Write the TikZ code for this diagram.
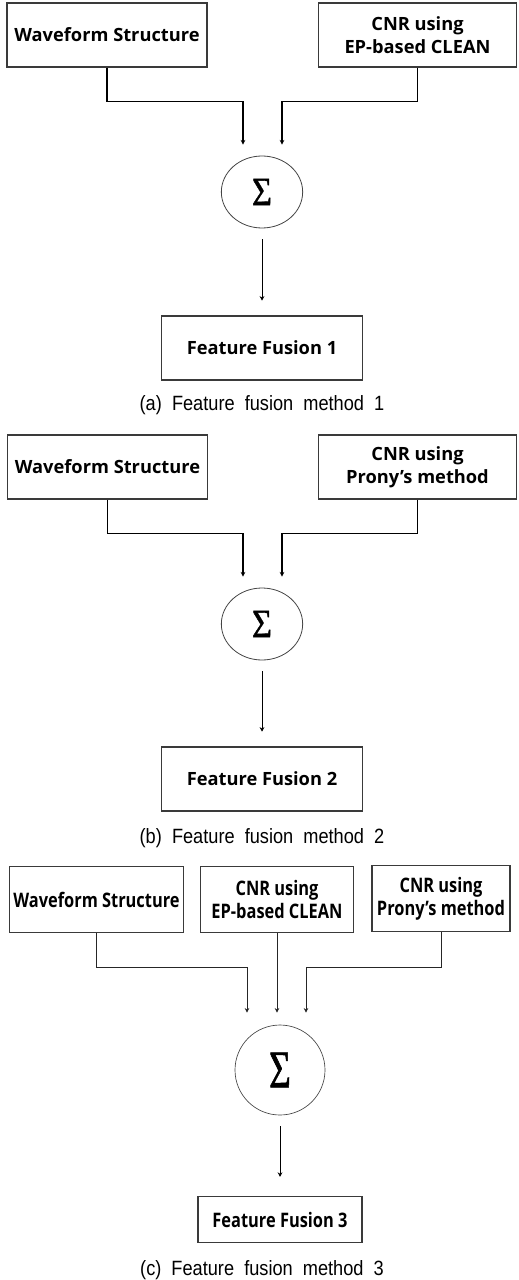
\documentclass[tikz,border=0pt]{standalone}
\usepackage{fontspec}
\usepackage{tikz}
\usetikzlibrary{arrows.meta, positioning, shapes.geometric, calc}
\newfontfamily\boxfont{Open Sans}
\newfontfamily\narrowfont[FakeStretch=0.82]{Open Sans}
\newfontfamily\capfont[FakeStretch=0.88, WordSpace=2]{Liberation Sans}
\newfontfamily\sigfont[FakeStretch=0.86, FakeBold=1]{Liberation Serif}
\newfontfamily\sigfontnarrow[FakeStretch=0.7, FakeBold=1]{Liberation Serif}
\definecolor{boxgray}{HTML}{3A3A3A}
\definecolor{ringgray}{HTML}{444444}

\tikzset{
  block/.style={draw=boxgray, line width=0.9pt, minimum width=150pt, minimum height=48pt,
    inner sep=1pt, align=center, font=\boxfont\bfseries\fontsize{13.7pt}{17pt}\selectfont},
  blockc/.style={block, line width=0.8pt, font=\narrowfont\bfseries\fontsize{15pt}{17pt}\selectfont},
  sumnode/.style={ellipse, draw=ringgray, line width=0.6pt, minimum width=61pt, minimum height=54pt,
    inner sep=0pt, font=\sigfont\fontsize{30pt}{30pt}\selectfont},
  sumring/.style={circle, draw=ringgray, line width=0.5pt, minimum size=67.5pt,
    inner sep=0pt, font=\sigfontnarrow\fontsize{40pt}{40pt}\selectfont},
  link/.style={line width=1.1pt, -{Stealth[length=3.5pt, width=3.5pt]}},
  linkc/.style={line width=0.6pt, draw=black!85, -{Stealth[length=3.5pt, width=3.5pt]}},
  drop/.style={line width=0.6pt, shorten <=8pt, shorten >=11pt, -{Stealth[length=3.5pt, width=3.5pt]}},
  caption/.style={font=\capfont\fontsize{15.5pt}{18pt}\selectfont},
}

\begin{document}
\begin{tikzpicture}[x=0.75pt, y=0.75pt]
    \useasboundingbox (0,0) rectangle (518,-1280);

    % (a) waveform + EP-based CLEAN
    \node[block] (wsA) at (107,-35) {Waveform Structure};
    \node[block, minimum width=149pt] (cnrA) at (417.5,-35) {CNR using\\EP-based CLEAN};
    \node[sumnode] (sumA) at (262,-192) {Σ};
    \node[block, minimum width=151pt] (ffA) at (262,-348) {Feature Fusion 1};
    \node[caption] (capA) at (262,-405) {(a) Feature fusion method 1};

    \coordinate (inA1) at ($(sumA.north)+(-19,11)$);
    \coordinate (inA2) at ($(sumA.north)+(20,11)$);
    \draw[link] (wsA.south) -- ++(0,-34) -| (inA1);
    \draw[link] (cnrA.south) -- ++(0,-34) -| (inA2);
    \draw[drop] (sumA) -- (ffA);

    % (b) waveform + Prony
    \node[block] (wsB) at (107.5,-467) {Waveform Structure};
    \node[block, minimum width=149pt] (cnrB) at (417.5,-467) {CNR using\\Prony’s method};
    \node[sumnode] (sumB) at (262,-624) {Σ};
    \node[block, minimum width=151pt] (ffB) at (262,-779) {Feature Fusion 2};
    \node[caption] (capB) at (262,-838) {(b) Feature fusion method 2};

    \coordinate (inB1) at ($(sumB.north)+(-19,11)$);
    \coordinate (inB2) at ($(sumB.north)+(20,11)$);
    \draw[link] (wsB.south) -- ++(0,-34) -| (inB1);
    \draw[link] (cnrB.south) -- ++(0,-34) -| (inB2);
    \draw[drop] (sumB) -- (ffB);

    % (c) all three
    \node[blockc, minimum width=130pt, minimum height=50pt] (wsC) at (96.5,-899.5) {Waveform Structure};
    \node[blockc, minimum width=115pt, minimum height=50pt] (epC) at (277,-899.5) {CNR using\\EP-based CLEAN};
    \node[blockc, minimum width=103.5pt, minimum height=50pt] (prC) at (441,-898.5) {CNR using\\Prony’s method};
    \node[sumring] (sumC) at (280,-1070) {Σ};
    \node[blockc, minimum width=123pt, minimum height=35pt] (ffC) at (280,-1219.5) {Feature Fusion 3};
    \node[caption] (capC) at (262,-1270) {(c) Feature fusion method 3};

    \coordinate (inC1) at ($(sumC.north)+(-33,12)$);
    \coordinate (inC2) at ($(sumC.north)+(-3,12)$);
    \coordinate (inC3) at ($(sumC.north)+(26,12)$);
    \draw[linkc] (wsC.south) -- ++(0,-34) -| (inC1);
    \draw[linkc] (epC.south) -- (inC2);
    \draw[linkc] (prC.south) -- ++(0,-35) -| (inC3);
    \draw[drop, shorten >=14pt] (sumC) -- (ffC);
\end{tikzpicture}
\end{document}
